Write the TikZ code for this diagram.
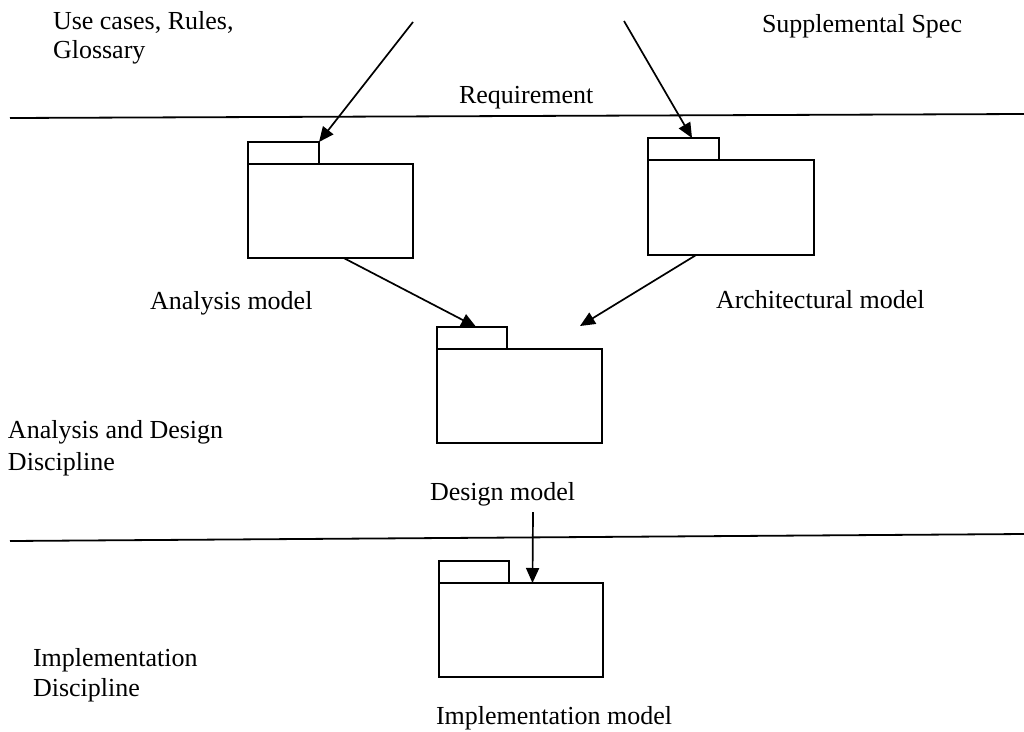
\documentclass[tikz,border=0pt]{standalone}
\usepackage{fontspec}
\setmainfont{Liberation Serif}
\usetikzlibrary{arrows.meta,calc}
\begin{document}
\begin{tikzpicture}[x=1pt,y=-1pt,
  every node/.style={font=\fontsize{26}{31}\selectfont, inner sep=0pt, outer sep=0pt},
  txt/.style={anchor=base west},
  multitxt/.style={anchor=north west, align=left},
  pkgbody/.style={draw, line width=1.8pt, minimum width=165pt, minimum height=94pt, anchor=north west},
  pkgtab/.style={draw, line width=1.8pt, minimum width=71pt, minimum height=22pt, anchor=south west},
  rule/.style={line width=1.8pt},
  flow/.style={line width=1.7pt, -{Triangle[length=15pt,width=13pt]}}]
\useasboundingbox (0,0) rectangle (1024,731);

% discipline boundaries
\coordinate (r1a) at (10,118);
\coordinate (r1b) at (1024,114);
\coordinate (r2a) at (10,541);
\coordinate (r2b) at (1024,534);
\draw[rule] (r1a) -- (r1b);
\draw[rule] (r2a) -- (r2b);

% inputs
\node[multitxt, font=\fontsize{26}{29}\selectfont] (useTxt) at (53,11) {Use cases, Rules,\\Glossary};
\node[txt] (supTxt) at (762,32) {Supplemental Spec};
\node[txt] (reqTxt) at (459,103) {Requirement};

% packages
\node[pkgbody] (anaBody) at (248,164) {};
\node[pkgtab] (anaTab) at (anaBody.north west) {};
\node[pkgbody, minimum width=166pt, minimum height=95pt] (archBody) at (648,160) {};
\node[pkgtab] (archTab) at (archBody.north west) {};
\node[pkgbody] (desBody) at (437,349) {};
\node[pkgtab, minimum width=70pt] (desTab) at (desBody.north west) {};
\node[pkgbody, minimum width=164pt] (implBody) at (439,583) {};
\node[pkgtab, minimum width=70pt] (implTab) at (implBody.north west) {};

% package captions
\node[txt] (anaTxt) at (150,309) {Analysis model};
\node[txt] (archTxt) at (716,308) {Architectural model};
\node[txt] (desTxt) at (430,500) {Design model};
\node[txt] (implTxt) at (436,724) {Implementation model};

% discipline captions
\node[multitxt, font=\fontsize{26}{32}\selectfont] (adTxt) at (8,420) {Analysis and Design\\Discipline};
\node[multitxt, font=\fontsize{26}{30}\selectfont] (imTxt) at (33,648) {Implementation\\Discipline};

% flows
\coordinate (useSrc) at (413,22);
\coordinate (supSrc) at (624,21);
\coordinate (desIn) at (580,326);
\coordinate (desOut) at (533,512);
\draw[flow] (useSrc) -- (anaTab.north east);
\draw[flow] (supSrc) -- ($(archTab.north west)!0.62!(archTab.north east)$);
\draw[flow] ($(anaBody.south west)!0.58!(anaBody.south east)$) -- ($(desTab.north west)!0.56!(desTab.north east)$);
\draw[flow] ($(archBody.south west)!0.29!(archBody.south east)$) -- (desIn);
\draw[flow] (desOut) -- ($(implBody.north west)!0.57!(implBody.north east)$);
\end{tikzpicture}
\end{document}
